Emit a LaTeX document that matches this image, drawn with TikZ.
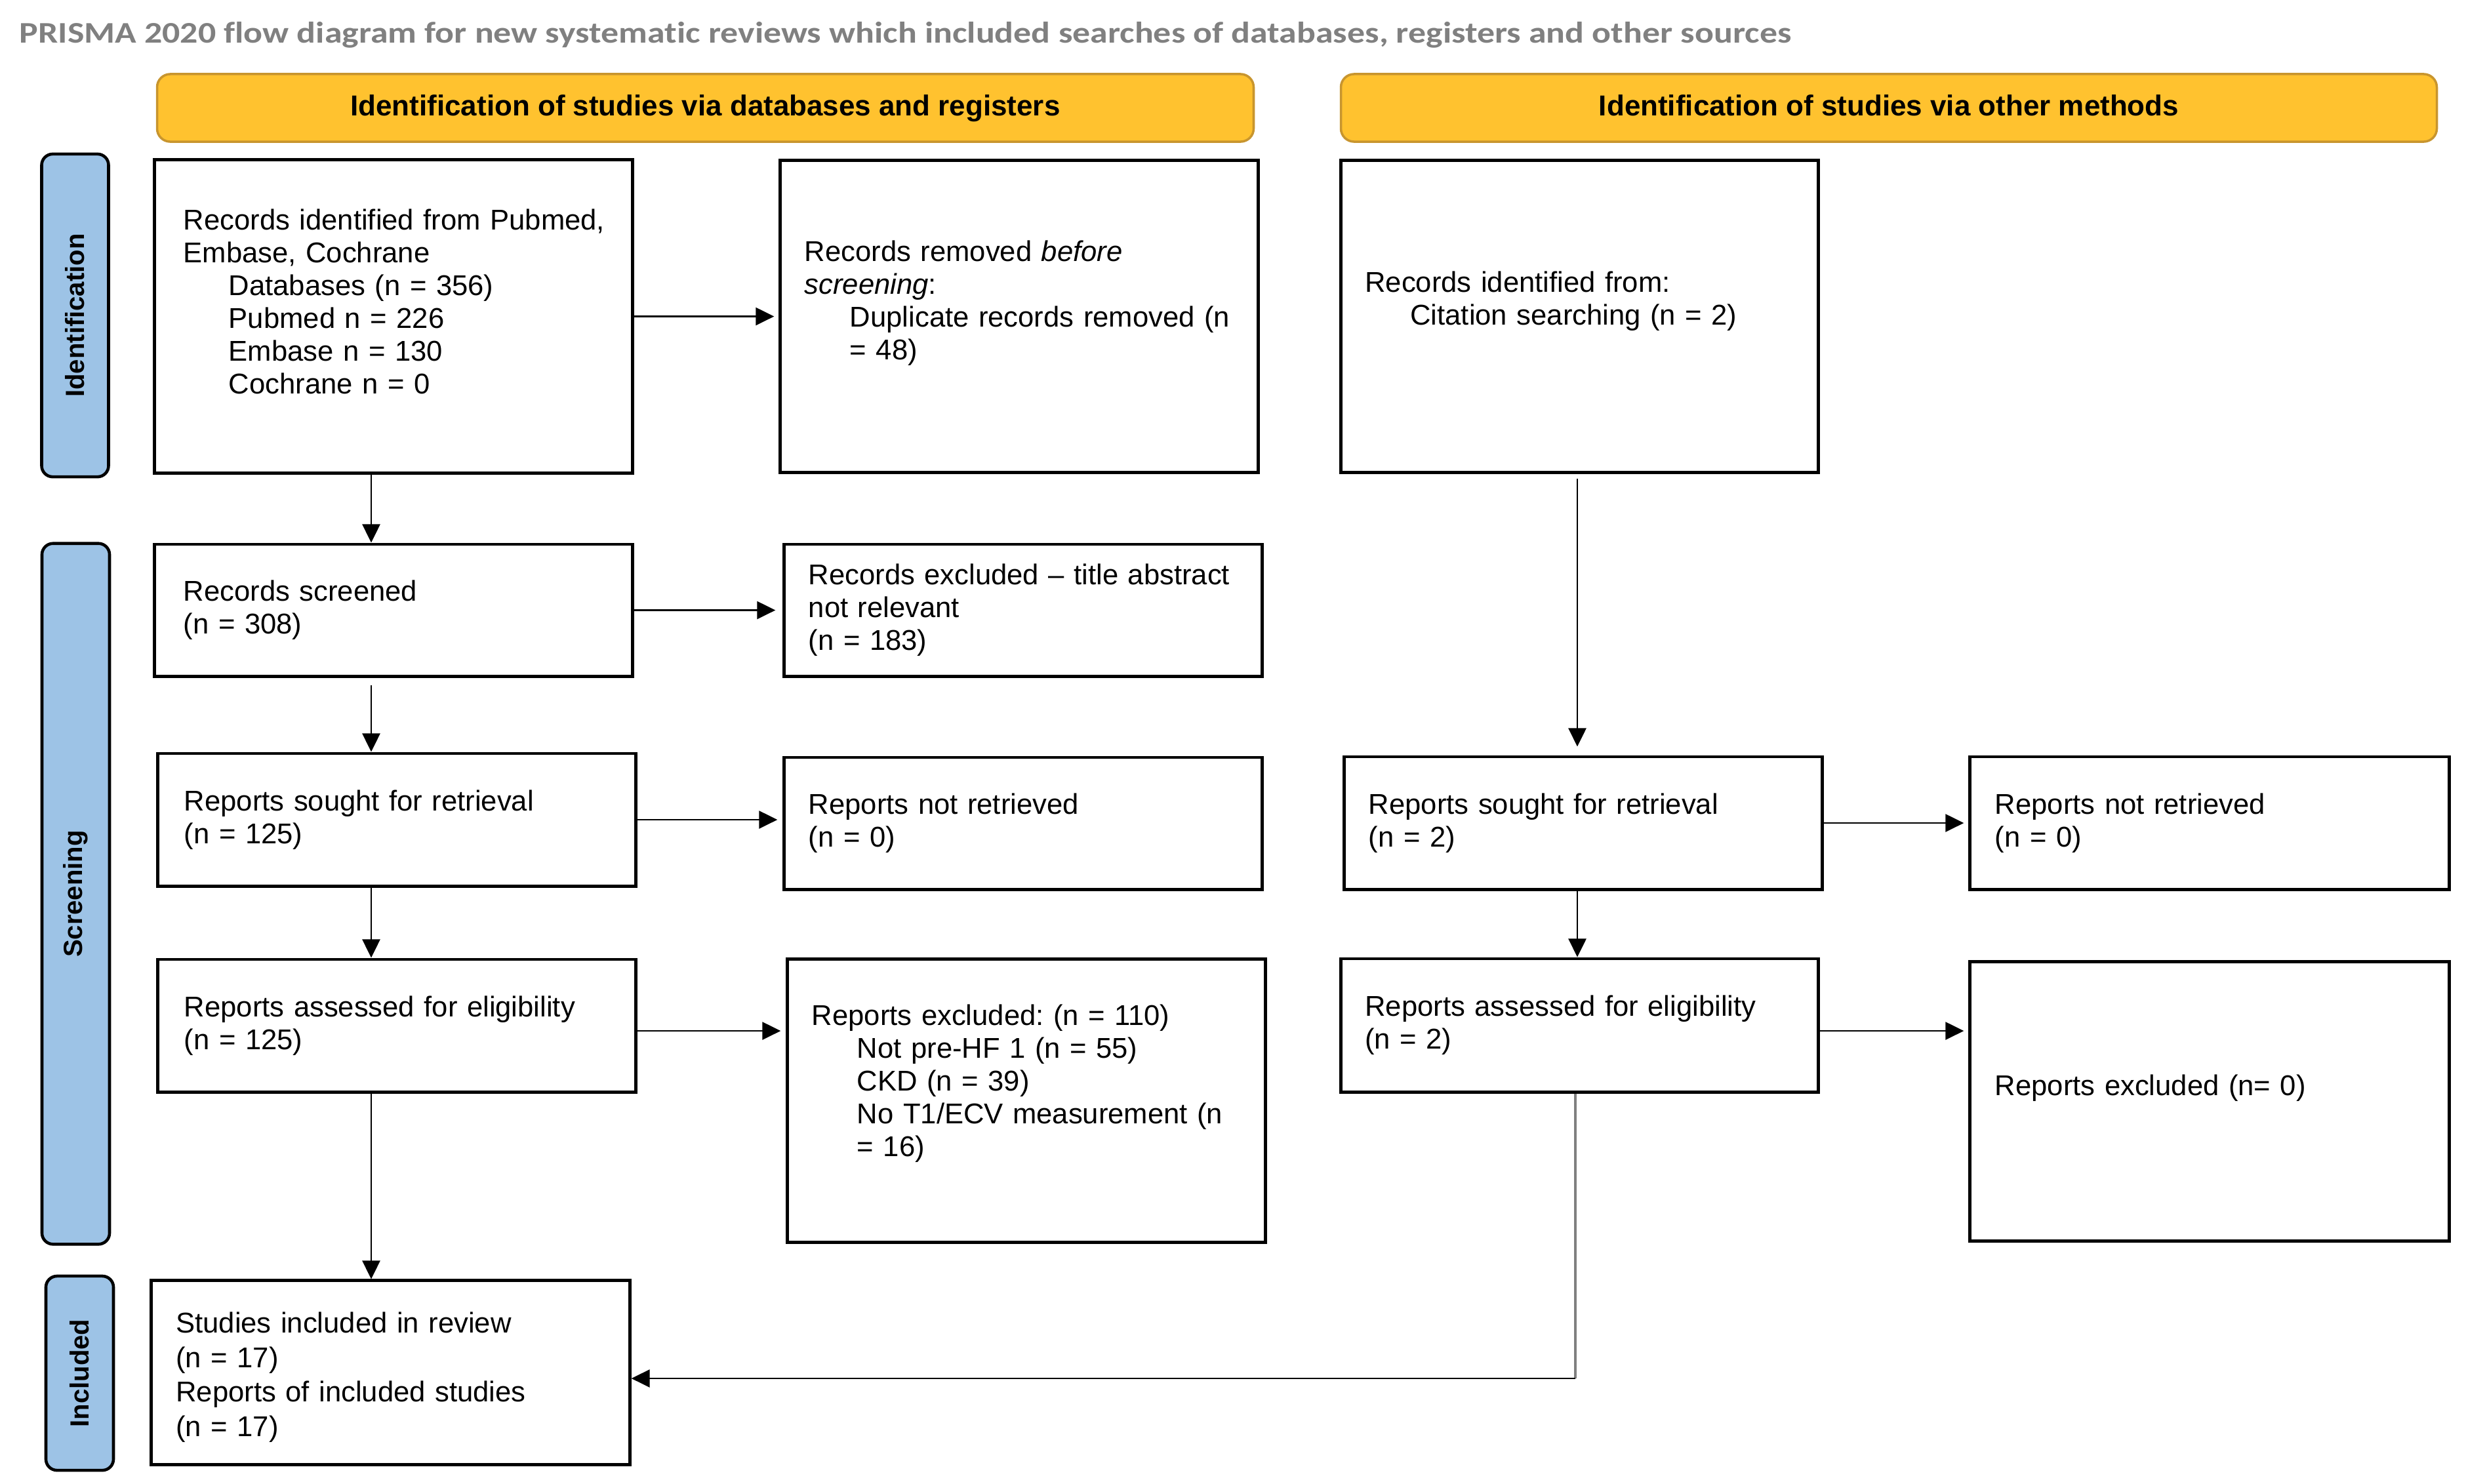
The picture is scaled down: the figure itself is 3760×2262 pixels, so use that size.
\documentclass[tikz,border=0pt]{standalone}
\usepackage{fontspec}
\usepackage{graphicx}
\setmainfont{Liberation Sans}
\newfontfamily\titlefont[Ligatures=NoCommon]{Carlito}
\usetikzlibrary{arrows.meta}
\definecolor{hdrfill}{HTML}{FFC22F}
\definecolor{hdrline}{HTML}{C8952E}
\definecolor{sidefill}{HTML}{9DC3E6}
\definecolor{titlegray}{HTML}{808080}
\definecolor{conngray}{HTML}{808080}
\newcommand{\lowpad}[1]{\rule[-#1]{0pt}{#1}}
\newcommand{\ind}{\hspace*{0.69cm}}
\frenchspacing
\begin{document}
\begin{tikzpicture}[x=0.01cm,y=-0.01cm,
  every node/.style={inner sep=0pt},
  box/.style={draw=black, line width=1.4pt, fill=white, rectangle,
    minimum width=7.28cm, text width=6.54cm, inner xsep=0.37cm, inner ysep=0.1cm,
    align=left, font=\fontsize{12.4}{14.2}\selectfont},
  hdr/.style={draw=hdrline, fill=hdrfill, line width=1pt, rounded corners=0.2cm,
    minimum height=1.03cm, text height=0.33cm, text depth=0.09cm,
    font=\bfseries\fontsize{12.5}{15}\selectfont, align=center},
  side/.style={draw=black, fill=sidefill, line width=1.3pt, rounded corners=0.17cm,
    rotate=90, font=\bfseries\fontsize{11.4}{13}\selectfont, minimum height=1.02cm},
  arr/.style={line width=0.7pt, -{Triangle[length=0.28cm,width=0.27cm]}},
  link/.style={line width=0.9pt, draw=conngray},
]
\useasboundingbox (0,0) rectangle (3760,2262);

% title
\node[anchor=base west, text=titlegray] (title) at (29,65)
  {\resizebox{27cm}{\height}{\titlefont\bfseries\fontsize{13}{15}\selectfont PRISMA 2020 flow diagram for new systematic reviews which included searches of databases, registers and other sources}};

% headers
\node[hdr, minimum width=16.71cm] (h1) at (1075.5,164.5) {Identification of studies via databases and registers};
\node[hdr, minimum width=16.70cm] (h2) at (2880,164.5) {Identification of studies via other methods};

% side bars
\node[side, minimum width=4.92cm] (s1) at (114.5,481) {Identification};
\node[side, minimum width=10.68cm, minimum height=1.03cm] (s2) at (115.5,1363) {Screening};
\node[side, minimum width=2.96cm, minimum height=1.03cm] (s3) at (121.5,2094) {Included};

% boxes: databases column
\node[box, minimum height=4.77cm, inner xsep=0.44cm, text width=6.40cm] (b1) at (600,482.5)
  {\mbox{Records identified from Pubmed,}\\Embase, Cochrane\\\ind Databases (n = 356)\\\ind Pubmed n = 226\\\ind Embase n = 130\\\ind Cochrane n = 0\lowpad{0.46cm}};
\node[box, minimum height=4.75cm] (b2) at (1554,482.5)
  {Records removed \textit{before}\\\textit{screening}:\\\ind \mbox{Duplicate records removed (n}\\\ind = 48)\lowpad{0.49cm}};
\node[box, minimum height=4.75cm, minimum width=7.27cm] (b3) at (2408.5,482.5)
  {Records identified from:\\\ind Citation searching (n = 2)\lowpad{0.55cm}};

\node[box, minimum height=2.01cm, inner xsep=0.44cm, text width=6.40cm] (b4) at (600,930.5)
  {Records screened\\(n = 308)};
\node[box, minimum height=2.01cm] (b5) at (1560,930.5)
  {\mbox{Records excluded \textendash{} title abstract}\\not relevant\\(n = 183)};

\node[box, minimum height=2.02cm, inner xsep=0.40cm, text width=6.48cm] (b6) at (605,1250)
  {Reports sought for retrieval\\(n = 125)};
\node[box, minimum height=2.01cm] (b7) at (1560,1255.5)
  {Reports not retrieved\\(n = 0)};

\node[box, minimum height=2.02cm, inner xsep=0.40cm, text width=6.48cm] (b8) at (605,1564)
  {Reports assessed for eligibility\\(n = 125)};
\node[box, minimum height=4.31cm] (b9) at (1565,1678.5)
  {Reports excluded: (n = 110)\\\ind Not pre-HF 1 (n = 55)\\\ind CKD (n = 39)\\\ind \mbox{No T1/ECV measurement (n}\\\ind = 16)\lowpad{0.61cm}};

% boxes: other methods column
\node[box, minimum height=2.02cm] (b10) at (2414,1255)
  {Reports sought for retrieval\\(n = 2)};
\node[box, minimum height=2.02cm, minimum width=7.30cm] (b11) at (3369,1255)
  {Reports not retrieved\\(n = 0)};
\node[box, minimum height=2.03cm, minimum width=7.27cm] (b12) at (2408.5,1563.5)
  {Reports assessed for eligibility\\(n = 2)};
\node[box, minimum height=4.25cm, minimum width=7.30cm] (b13) at (3369,1679.5)
  {Reports excluded (n= 0)\lowpad{0.50cm}};

% included
\node[box, minimum height=2.80cm, minimum width=7.29cm, font=\fontsize{12.4}{15}\selectfont] (b14) at (595.5,2093)
  {\rule{0pt}{0.46cm}Studies included in review\\(n = 17)\\Reports of included studies\\(n = 17)};

% connector helpers
\coordinate (lx) at (566,0);
\coordinate (rx) at (2405,0);
\coordinate (ey) at (0,1572);
\coordinate (cj) at (2402,2102);

% vertical flow, left
\draw[arr] (b1.south -| lx) -- (b4.north -| lx);
\draw[arr, shorten <=0.11cm] (b4.south -| lx) -- (b6.north -| lx);
\draw[arr] (b6.south -| lx) -- (b8.north -| lx);
\draw[arr] (b8.south -| lx) -- (b14.north -| lx);
% horizontal, left
\draw[arr, shorten >=0.07cm] (b1.east) -- (b1.east -| b2.west);
\draw[arr, shorten >=0.11cm] (b4.east) -- (b4.east -| b5.west);
\draw[arr, shorten >=0.08cm] (b6.east) -- (b6.east -| b7.west);
\draw[arr, shorten >=0.08cm] (b8.east |- ey) -- (b9.west |- ey);
% right column
\draw[arr, shorten <=0.07cm, shorten >=0.13cm] (b3.south -| rx) -- (b10.north -| rx);
\draw[arr] (b10.south -| rx) -- (b12.north -| rx);
\draw[arr, shorten >=0.07cm] (b10.east) -- (b10.east -| b11.west);
\draw[arr, shorten >=0.07cm] (b12.east |- ey) -- (b13.west |- ey);
\draw[link] (b12.south -| cj) -- (cj);
\draw[arr] (cj) -- (b14.east |- cj);
\end{tikzpicture}
\end{document}
